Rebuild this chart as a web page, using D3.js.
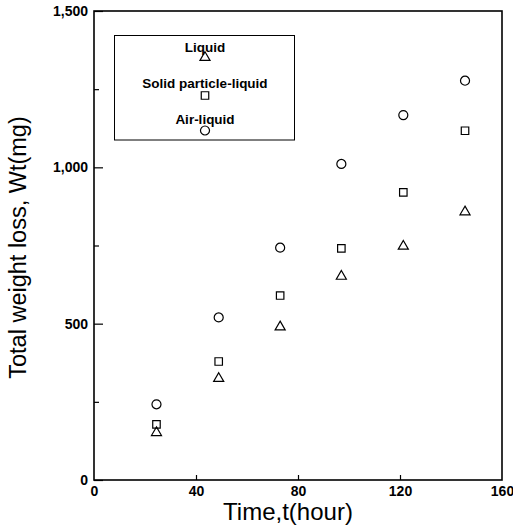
<!DOCTYPE html>
<html><head><meta charset="utf-8">
<script src="https://cdn.jsdelivr.net/npm/d3@7"></script>
<style>body{margin:0;background:#fff}</style>
</head><body>
<script>
const times = [24.5, 48.9, 73, 97, 121.3, 145.5];
const airLiquid = [242, 520, 743, 1011, 1167, 1277];
const solidParticleLiquid = [178, 379, 590, 741, 920, 1117];
const liquid = [154, 327, 492, 654, 750, 860];
const xTicks = [0, 40, 80, 120, 160];
const yTicks = [0, 500, 1000, 1500];
const yMinorTicks = [250, 750, 1250];
const legendLabels = ["Liquid", "Solid particle-liquid", "Air-liquid"];

const W = 513, H = 529;
const svg = d3.select("body").append("svg").attr("width", W).attr("height", H);
const x = d3.scaleLinear().domain([0, 160]).range([94, 502]);
const y = d3.scaleLinear().domain([0, 1500]).range([480, 11]);
const font = "'Liberation Sans', Arial, sans-serif";

// frame
svg.append("rect").attr("x", x(0)).attr("y", y(1500))
  .attr("width", x(160) - x(0)).attr("height", y(0) - y(1500))
  .attr("fill", "none").attr("stroke", "#000").attr("stroke-width", 1.6);

// y axis
const yAxis = d3.axisLeft(y).tickValues(yTicks).tickSize(-9).tickPadding(14)
  .tickFormat(d3.format(","));
const gy = svg.append("g").attr("transform", `translate(${x(0)},0)`).call(yAxis);
gy.select(".domain").remove();
gy.selectAll("line").attr("stroke-width", 1.2);
gy.selectAll("text").attr("font-family", font).attr("font-size", 14).attr("font-weight", "bold").attr("x", -6);
const yMinor = d3.axisLeft(y).tickValues(yMinorTicks).tickSize(-5).tickFormat("");
const gym = svg.append("g").attr("transform", `translate(${x(0)},0)`).call(yMinor);
gym.select(".domain").remove();
gym.selectAll("line").attr("stroke-width", 1.2);

// x axis
const xAxis = d3.axisBottom(x).tickValues(xTicks).tickSize(-5).tickPadding(6);
const gx = svg.append("g").attr("transform", `translate(0,${y(0)})`).call(xAxis);
gx.select(".domain").remove();
gx.selectAll("line").attr("stroke-width", 1.2);
gx.selectAll("text").attr("font-family", font).attr("font-size", 14).attr("font-weight", "bold");
gx.selectAll(".tick").filter(d => d === 0 || d === 160).select("line").remove();

// titles
svg.append("text").attr("x", (x(0) + x(160)) / 2 - 10).attr("y", 520)
  .attr("text-anchor", "middle").attr("font-family", font).attr("font-size", 24)
  .text("Time,t(hour)");
svg.append("text").attr("transform", `translate(26,${(115 + 380) / 2}) rotate(-90)`)
  .attr("text-anchor", "middle").attr("font-family", font).attr("font-size", 23.5)
  .text("Total weight loss, Wt(mg)");

// markers
const sym = (type, size) => d3.symbol().type(type).size(size)();
function drawSeries(vals, type, size, dy) {
  svg.append("g").selectAll("path").data(vals).join("path")
    .attr("transform", (d, i) => `translate(${x(times[i])},${y(d) + dy})`)
    .attr("d", sym(type, size))
    .attr("fill", "none").attr("stroke", "#000").attr("stroke-width", 1.2);
}
drawSeries(airLiquid, d3.symbolCircle, 64, 0);
drawSeries(solidParticleLiquid, d3.symbolSquare, 56, 0);
drawSeries(liquid, d3.symbolTriangle, 44, 0.8);

// legend
svg.append("rect").attr("x", 114.5).attr("y", 35.5).attr("width", 180).attr("height", 104.5)
  .attr("fill", "none").attr("stroke", "#000").attr("stroke-width", 1);
const legTypes = [d3.symbolTriangle, d3.symbolSquare, d3.symbolCircle];
const legSizes = [44, 56, 64];
const legTextY = [52, 88, 124];
const legSymY = [57.5, 95.5, 130.5];
legendLabels.forEach((lab, i) => {
  svg.append("text").attr("x", 205).attr("y", legTextY[i]).attr("text-anchor", "middle")
    .attr("font-family", font).attr("font-size", 13.5).attr("font-weight", "bold").text(lab);
  svg.append("path").attr("transform", `translate(205,${legSymY[i]})`)
    .attr("d", sym(legTypes[i], legSizes[i]))
    .attr("fill", "none").attr("stroke", "#000").attr("stroke-width", 1.2);
});
</script>
</body></html>
